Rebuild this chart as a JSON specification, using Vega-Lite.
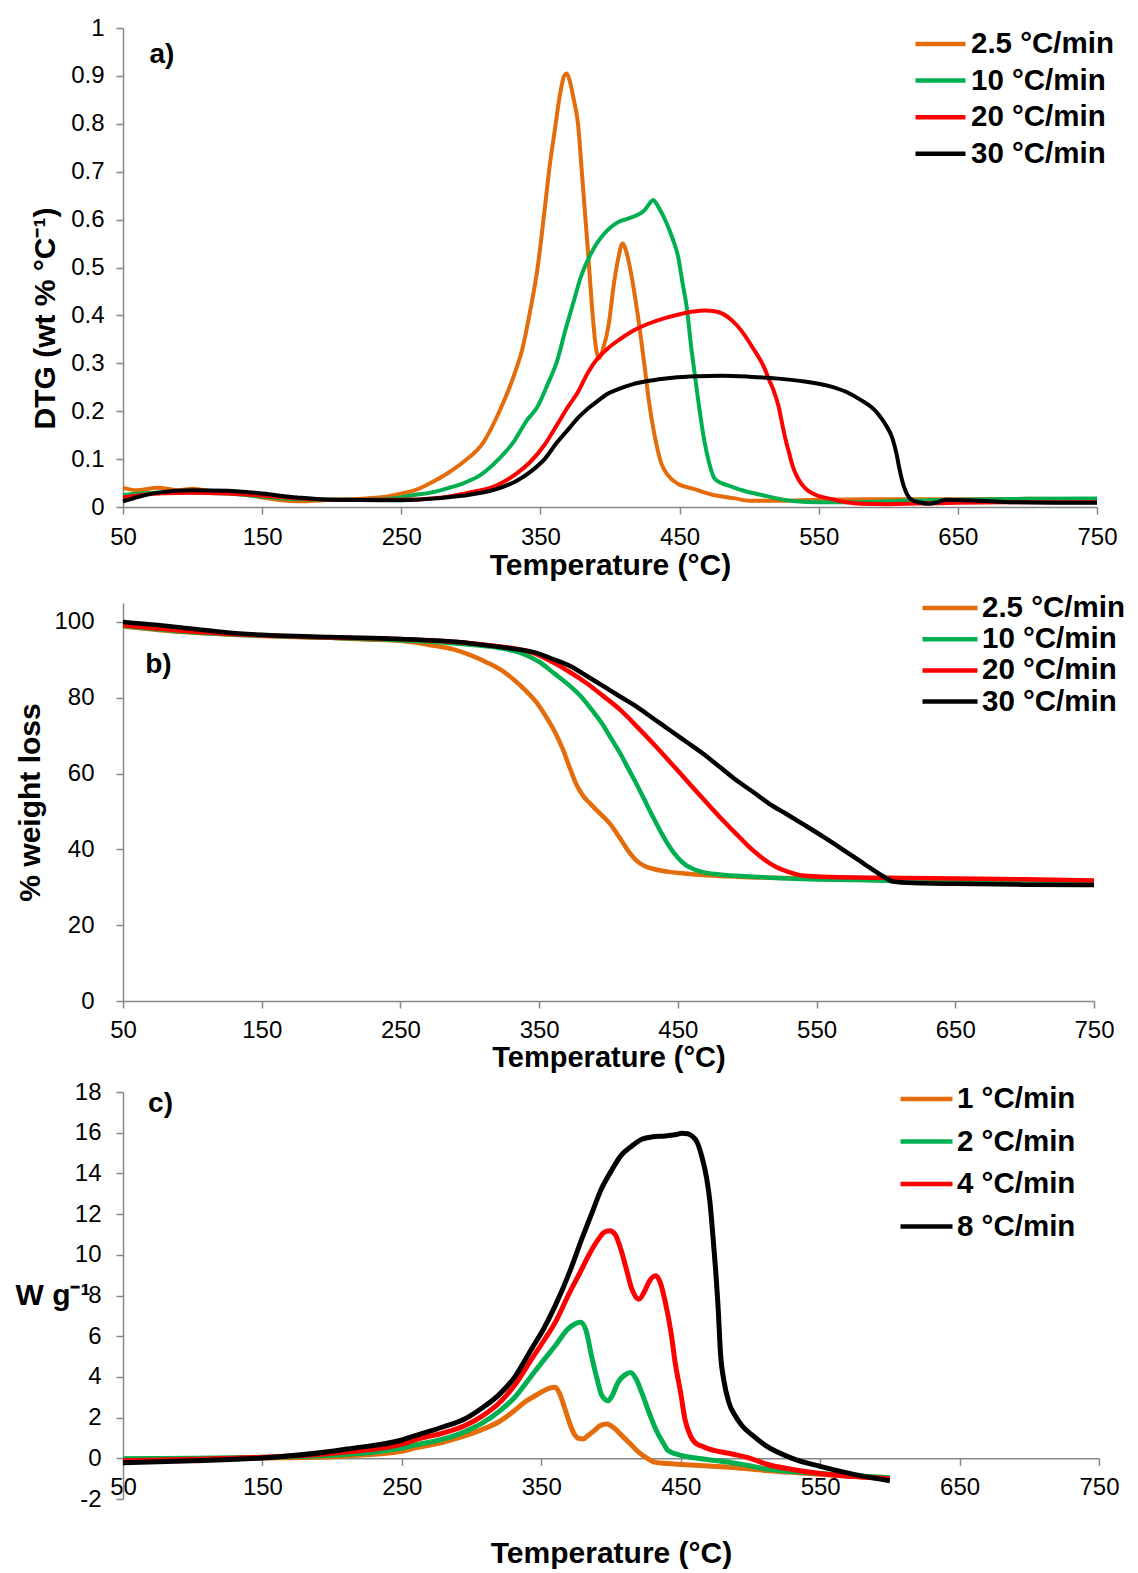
{
  "$schema": "https://vega.github.io/schema/vega-lite/v6.json",
  "background": "white",
  "padding": {"left": 15, "top": 16, "right": 0, "bottom": 0},
  "bounds": "flush",
  "spacing": 96,
  "config": {
    "view": {"stroke": null},
    "font": "Liberation Sans",
    "axis": {
      "labelFont": "Liberation Sans", "labelFontSize": 24, "labelColor": "#000000", "labelFlush": false, "labelOverlap": false,
      "titleFont": "Liberation Sans", "titleFontSize": 30, "titleFontWeight": "bold", "titleColor": "#000000",
      "domainColor": "#878787", "domainWidth": 1.5, "tickColor": "#878787", "tickWidth": 1.5, "tickSize": 7, "grid": false
    },
    "legend": {"padding": 0, "title": null}
  },
  "resolve": {"scale": {"color": "independent"}, "legend": {"color": "independent"}},
  "vconcat": [
    {
      "width": 974, "height": 479,
      "layer": [
        {
          "data": {"values": [
            {"rate":"2.5 °C/min","T":50,"v":0.04},{"rate":"2.5 °C/min","T":60,"v":0.035},{"rate":"2.5 °C/min","T":75,"v":0.04},{"rate":"2.5 °C/min","T":90,"v":0.035},{"rate":"2.5 °C/min","T":100,"v":0.038},{"rate":"2.5 °C/min","T":115,"v":0.032},{"rate":"2.5 °C/min","T":125,"v":0.03},{"rate":"2.5 °C/min","T":140,"v":0.025},{"rate":"2.5 °C/min","T":150,"v":0.02},{"rate":"2.5 °C/min","T":175,"v":0.012},{"rate":"2.5 °C/min","T":200,"v":0.015},{"rate":"2.5 °C/min","T":225,"v":0.018},{"rate":"2.5 °C/min","T":240,"v":0.022},{"rate":"2.5 °C/min","T":250,"v":0.028},{"rate":"2.5 °C/min","T":260,"v":0.035},{"rate":"2.5 °C/min","T":271,"v":0.05},{"rate":"2.5 °C/min","T":283,"v":0.07},{"rate":"2.5 °C/min","T":295,"v":0.095},{"rate":"2.5 °C/min","T":309,"v":0.135},{"rate":"2.5 °C/min","T":319,"v":0.19},{"rate":"2.5 °C/min","T":331,"v":0.275},{"rate":"2.5 °C/min","T":337,"v":0.33},{"rate":"2.5 °C/min","T":343,"v":0.415},{"rate":"2.5 °C/min","T":348,"v":0.5},{"rate":"2.5 °C/min","T":353,"v":0.62},{"rate":"2.5 °C/min","T":357,"v":0.72},{"rate":"2.5 °C/min","T":360,"v":0.78},{"rate":"2.5 °C/min","T":364,"v":0.86},{"rate":"2.5 °C/min","T":367,"v":0.9},{"rate":"2.5 °C/min","T":369,"v":0.905},{"rate":"2.5 °C/min","T":371,"v":0.89},{"rate":"2.5 °C/min","T":374,"v":0.85},{"rate":"2.5 °C/min","T":377,"v":0.8},{"rate":"2.5 °C/min","T":380,"v":0.69},{"rate":"2.5 °C/min","T":384,"v":0.54},{"rate":"2.5 °C/min","T":387,"v":0.42},{"rate":"2.5 °C/min","T":390,"v":0.33},{"rate":"2.5 °C/min","T":392,"v":0.31},{"rate":"2.5 °C/min","T":395,"v":0.33},{"rate":"2.5 °C/min","T":399,"v":0.38},{"rate":"2.5 °C/min","T":403,"v":0.47},{"rate":"2.5 °C/min","T":406,"v":0.52},{"rate":"2.5 °C/min","T":409,"v":0.55},{"rate":"2.5 °C/min","T":412,"v":0.53},{"rate":"2.5 °C/min","T":415,"v":0.49},{"rate":"2.5 °C/min","T":420,"v":0.4},{"rate":"2.5 °C/min","T":425,"v":0.29},{"rate":"2.5 °C/min","T":428,"v":0.22},{"rate":"2.5 °C/min","T":432,"v":0.15},{"rate":"2.5 °C/min","T":437,"v":0.09},{"rate":"2.5 °C/min","T":442,"v":0.065},{"rate":"2.5 °C/min","T":449,"v":0.048},{"rate":"2.5 °C/min","T":460,"v":0.038},{"rate":"2.5 °C/min","T":473,"v":0.026},{"rate":"2.5 °C/min","T":490,"v":0.018},{"rate":"2.5 °C/min","T":500,"v":0.013},{"rate":"2.5 °C/min","T":520,"v":0.013},{"rate":"2.5 °C/min","T":550,"v":0.015},{"rate":"2.5 °C/min","T":600,"v":0.016},{"rate":"2.5 °C/min","T":650,"v":0.016},{"rate":"2.5 °C/min","T":700,"v":0.017},{"rate":"2.5 °C/min","T":750,"v":0.016},
            {"rate":"10 °C/min","T":50,"v":0.025},{"rate":"10 °C/min","T":75,"v":0.03},{"rate":"10 °C/min","T":100,"v":0.03},{"rate":"10 °C/min","T":125,"v":0.028},{"rate":"10 °C/min","T":150,"v":0.022},{"rate":"10 °C/min","T":175,"v":0.016},{"rate":"10 °C/min","T":200,"v":0.015},{"rate":"10 °C/min","T":225,"v":0.015},{"rate":"10 °C/min","T":250,"v":0.02},{"rate":"10 °C/min","T":259,"v":0.025},{"rate":"10 °C/min","T":271,"v":0.03},{"rate":"10 °C/min","T":283,"v":0.039},{"rate":"10 °C/min","T":295,"v":0.05},{"rate":"10 °C/min","T":307,"v":0.067},{"rate":"10 °C/min","T":320,"v":0.1},{"rate":"10 °C/min","T":331,"v":0.137},{"rate":"10 °C/min","T":340,"v":0.18},{"rate":"10 °C/min","T":348,"v":0.21},{"rate":"10 °C/min","T":355,"v":0.255},{"rate":"10 °C/min","T":362,"v":0.305},{"rate":"10 °C/min","T":368,"v":0.37},{"rate":"10 °C/min","T":374,"v":0.43},{"rate":"10 °C/min","T":379,"v":0.48},{"rate":"10 °C/min","T":384,"v":0.515},{"rate":"10 °C/min","T":390,"v":0.548},{"rate":"10 °C/min","T":396,"v":0.571},{"rate":"10 °C/min","T":401,"v":0.585},{"rate":"10 °C/min","T":406,"v":0.595},{"rate":"10 °C/min","T":413,"v":0.602},{"rate":"10 °C/min","T":420,"v":0.61},{"rate":"10 °C/min","T":425,"v":0.62},{"rate":"10 °C/min","T":428,"v":0.632},{"rate":"10 °C/min","T":431,"v":0.641},{"rate":"10 °C/min","T":435,"v":0.625},{"rate":"10 °C/min","T":440,"v":0.597},{"rate":"10 °C/min","T":445,"v":0.56},{"rate":"10 °C/min","T":449,"v":0.522},{"rate":"10 °C/min","T":452,"v":0.47},{"rate":"10 °C/min","T":455,"v":0.42},{"rate":"10 °C/min","T":458.5,"v":0.33},{"rate":"10 °C/min","T":461,"v":0.275},{"rate":"10 °C/min","T":464,"v":0.21},{"rate":"10 °C/min","T":468,"v":0.135},{"rate":"10 °C/min","T":471,"v":0.095},{"rate":"10 °C/min","T":475,"v":0.06},{"rate":"10 °C/min","T":480,"v":0.05},{"rate":"10 °C/min","T":485,"v":0.045},{"rate":"10 °C/min","T":495,"v":0.035},{"rate":"10 °C/min","T":509,"v":0.025},{"rate":"10 °C/min","T":533,"v":0.012},{"rate":"10 °C/min","T":550,"v":0.01},{"rate":"10 °C/min","T":570,"v":0.01},{"rate":"10 °C/min","T":600,"v":0.012},{"rate":"10 °C/min","T":650,"v":0.015},{"rate":"10 °C/min","T":700,"v":0.017},{"rate":"10 °C/min","T":750,"v":0.018},
            {"rate":"20 °C/min","T":50,"v":0.02},{"rate":"20 °C/min","T":75,"v":0.028},{"rate":"20 °C/min","T":100,"v":0.03},{"rate":"20 °C/min","T":125,"v":0.028},{"rate":"20 °C/min","T":150,"v":0.024},{"rate":"20 °C/min","T":175,"v":0.018},{"rate":"20 °C/min","T":200,"v":0.015},{"rate":"20 °C/min","T":250,"v":0.015},{"rate":"20 °C/min","T":280,"v":0.02},{"rate":"20 °C/min","T":295,"v":0.028},{"rate":"20 °C/min","T":319,"v":0.046},{"rate":"20 °C/min","T":333,"v":0.07},{"rate":"20 °C/min","T":343,"v":0.095},{"rate":"20 °C/min","T":353,"v":0.13},{"rate":"20 °C/min","T":362,"v":0.172},{"rate":"20 °C/min","T":370,"v":0.21},{"rate":"20 °C/min","T":377,"v":0.24},{"rate":"20 °C/min","T":384,"v":0.28},{"rate":"20 °C/min","T":391,"v":0.31},{"rate":"20 °C/min","T":398,"v":0.33},{"rate":"20 °C/min","T":406,"v":0.348},{"rate":"20 °C/min","T":416,"v":0.367},{"rate":"20 °C/min","T":427,"v":0.382},{"rate":"20 °C/min","T":440,"v":0.395},{"rate":"20 °C/min","T":451,"v":0.403},{"rate":"20 °C/min","T":460,"v":0.408},{"rate":"20 °C/min","T":468,"v":0.41},{"rate":"20 °C/min","T":476,"v":0.408},{"rate":"20 °C/min","T":485,"v":0.396},{"rate":"20 °C/min","T":491,"v":0.38},{"rate":"20 °C/min","T":497,"v":0.358},{"rate":"20 °C/min","T":502,"v":0.335},{"rate":"20 °C/min","T":507,"v":0.312},{"rate":"20 °C/min","T":511,"v":0.29},{"rate":"20 °C/min","T":514,"v":0.268},{"rate":"20 °C/min","T":518,"v":0.24},{"rate":"20 °C/min","T":521,"v":0.212},{"rate":"20 °C/min","T":524,"v":0.17},{"rate":"20 °C/min","T":526,"v":0.143},{"rate":"20 °C/min","T":529,"v":0.11},{"rate":"20 °C/min","T":531,"v":0.088},{"rate":"20 °C/min","T":535,"v":0.06},{"rate":"20 °C/min","T":540,"v":0.04},{"rate":"20 °C/min","T":548,"v":0.025},{"rate":"20 °C/min","T":557,"v":0.018},{"rate":"20 °C/min","T":570,"v":0.01},{"rate":"20 °C/min","T":581,"v":0.007},{"rate":"20 °C/min","T":600,"v":0.006},{"rate":"20 °C/min","T":650,"v":0.009},{"rate":"20 °C/min","T":700,"v":0.01},{"rate":"20 °C/min","T":750,"v":0.01},
            {"rate":"30 °C/min","T":50,"v":0.012},{"rate":"30 °C/min","T":62,"v":0.022},{"rate":"30 °C/min","T":75,"v":0.03},{"rate":"30 °C/min","T":100,"v":0.035},{"rate":"30 °C/min","T":125,"v":0.034},{"rate":"30 °C/min","T":150,"v":0.028},{"rate":"30 °C/min","T":175,"v":0.02},{"rate":"30 °C/min","T":200,"v":0.015},{"rate":"30 °C/min","T":250,"v":0.014},{"rate":"30 °C/min","T":275,"v":0.018},{"rate":"30 °C/min","T":300,"v":0.026},{"rate":"30 °C/min","T":319,"v":0.038},{"rate":"30 °C/min","T":333,"v":0.055},{"rate":"30 °C/min","T":343,"v":0.074},{"rate":"30 °C/min","T":353,"v":0.1},{"rate":"30 °C/min","T":362,"v":0.135},{"rate":"30 °C/min","T":370,"v":0.162},{"rate":"30 °C/min","T":377,"v":0.186},{"rate":"30 °C/min","T":384,"v":0.205},{"rate":"30 °C/min","T":391,"v":0.221},{"rate":"30 °C/min","T":398,"v":0.236},{"rate":"30 °C/min","T":406,"v":0.246},{"rate":"30 °C/min","T":416,"v":0.256},{"rate":"30 °C/min","T":427,"v":0.263},{"rate":"30 °C/min","T":445,"v":0.27},{"rate":"30 °C/min","T":463,"v":0.273},{"rate":"30 °C/min","T":480,"v":0.274},{"rate":"30 °C/min","T":500,"v":0.272},{"rate":"30 °C/min","T":521,"v":0.268},{"rate":"30 °C/min","T":540,"v":0.262},{"rate":"30 °C/min","T":557,"v":0.253},{"rate":"30 °C/min","T":570,"v":0.24},{"rate":"30 °C/min","T":581,"v":0.222},{"rate":"30 °C/min","T":588,"v":0.208},{"rate":"30 °C/min","T":593,"v":0.193},{"rate":"30 °C/min","T":598,"v":0.172},{"rate":"30 °C/min","T":603,"v":0.143},{"rate":"30 °C/min","T":606,"v":0.11},{"rate":"30 °C/min","T":608,"v":0.08},{"rate":"30 °C/min","T":610,"v":0.055},{"rate":"30 °C/min","T":612.6,"v":0.032},{"rate":"30 °C/min","T":615,"v":0.02},{"rate":"30 °C/min","T":617,"v":0.015},{"rate":"30 °C/min","T":622,"v":0.01},{"rate":"30 °C/min","T":629.5,"v":0.007},{"rate":"30 °C/min","T":635,"v":0.01},{"rate":"30 °C/min","T":641.5,"v":0.015},{"rate":"30 °C/min","T":655,"v":0.014},{"rate":"30 °C/min","T":666,"v":0.013},{"rate":"30 °C/min","T":690,"v":0.01},{"rate":"30 °C/min","T":720,"v":0.009},{"rate":"30 °C/min","T":750,"v":0.009}
          ]},
          "mark": {"type": "line", "strokeWidth": 4, "interpolate": "monotone"},
          "encoding": {
            "x": {"field": "T", "type": "quantitative", "scale": {"domain": [50, 750], "nice": false, "zero": false},
                  "axis": {"values": [50,150,250,350,450,550,650,750], "title": "Temperature (°C)", "labelPadding": 11, "titleY": 58, "titleBaseline": "middle"}},
            "y": {"field": "v", "type": "quantitative", "scale": {"domain": [0, 1], "nice": false},
                  "axis": {"values": [0,0.1,0.2,0.3,0.4,0.5,0.6,0.7,0.8,0.9,1], "format": ".1~f", "labelPadding": 12, "title": "DTG (wt % °C⁻¹)", "titleX": -78, "titleY": 290, "titleAngle": -90, "titleAlign": "center", "titleBaseline": "middle"}},
            "color": {"field": "rate", "type": "nominal",
                      "scale": {"domain": ["2.5 °C/min","10 °C/min","20 °C/min","30 °C/min"], "range": ["#E46C0A","#00B050","#FF0000","#000000"]},
                      "legend": {"orient": "none", "legendX": 790, "legendY": 1.25, "symbolType": "stroke", "symbolSize": 2500, "symbolStrokeWidth": 4.5, "labelFontSize": 29.5, "labelFontWeight": "bold", "labelFont": "Liberation Sans", "labelColor": "#000000", "labelOffset": 3, "rowPadding": 5.6, "clipHeight": 29.5}}
          }
        },
        {
          "data": {"values": [{"T": 69, "v": 0.943, "label": "a)"}]},
          "mark": {"type": "text", "fontSize": 28, "fontWeight": "bold", "align": "left", "baseline": "middle", "font": "Liberation Sans", "color": "#000000"},
          "encoding": {"x": {"field": "T", "type": "quantitative"}, "y": {"field": "v", "type": "quantitative"}, "text": {"field": "label"}}
        }
      ]
    },
    {
      "bounds": "flush",
      "spacing": 91,
      "resolve": {"scale": {"color": "independent"}, "legend": {"color": "independent"}},
      "vconcat": [
        {
          "width": 971, "height": 398,
          "layer": [
            {
              "data": {"values": [
                {"rate":"2.5 °C/min","T":50,"v":98.8},{"rate":"2.5 °C/min","T":75,"v":97.9},{"rate":"2.5 °C/min","T":100,"v":97.2},{"rate":"2.5 °C/min","T":125,"v":96.7},{"rate":"2.5 °C/min","T":150,"v":96.3},{"rate":"2.5 °C/min","T":200,"v":95.8},{"rate":"2.5 °C/min","T":225,"v":95.4},{"rate":"2.5 °C/min","T":253,"v":94.9},{"rate":"2.5 °C/min","T":270,"v":94},{"rate":"2.5 °C/min","T":289,"v":92.7},{"rate":"2.5 °C/min","T":300,"v":91.3},{"rate":"2.5 °C/min","T":313,"v":89.2},{"rate":"2.5 °C/min","T":323,"v":87.2},{"rate":"2.5 °C/min","T":332,"v":84.7},{"rate":"2.5 °C/min","T":340,"v":82},{"rate":"2.5 °C/min","T":348.5,"v":78.6},{"rate":"2.5 °C/min","T":355,"v":75},{"rate":"2.5 °C/min","T":360.6,"v":71.5},{"rate":"2.5 °C/min","T":367,"v":66.5},{"rate":"2.5 °C/min","T":372.6,"v":61},{"rate":"2.5 °C/min","T":377,"v":57},{"rate":"2.5 °C/min","T":382,"v":54},{"rate":"2.5 °C/min","T":387,"v":52},{"rate":"2.5 °C/min","T":391.6,"v":50.3},{"rate":"2.5 °C/min","T":396,"v":48.7},{"rate":"2.5 °C/min","T":401,"v":46.8},{"rate":"2.5 °C/min","T":406,"v":44.2},{"rate":"2.5 °C/min","T":410.8,"v":41.5},{"rate":"2.5 °C/min","T":415,"v":39.2},{"rate":"2.5 °C/min","T":420,"v":37.1},{"rate":"2.5 °C/min","T":426,"v":35.6},{"rate":"2.5 °C/min","T":432,"v":34.9},{"rate":"2.5 °C/min","T":445,"v":34},{"rate":"2.5 °C/min","T":456,"v":33.6},{"rate":"2.5 °C/min","T":492,"v":32.8},{"rate":"2.5 °C/min","T":550,"v":32.3},{"rate":"2.5 °C/min","T":600,"v":32},{"rate":"2.5 °C/min","T":650,"v":31.8},{"rate":"2.5 °C/min","T":700,"v":31.6},{"rate":"2.5 °C/min","T":750,"v":31.4},
                {"rate":"10 °C/min","T":50,"v":99},{"rate":"10 °C/min","T":100,"v":97.3},{"rate":"10 °C/min","T":150,"v":96.4},{"rate":"10 °C/min","T":200,"v":95.8},{"rate":"10 °C/min","T":250,"v":95.2},{"rate":"10 °C/min","T":301,"v":94},{"rate":"10 °C/min","T":320,"v":93.2},{"rate":"10 °C/min","T":337,"v":91.8},{"rate":"10 °C/min","T":350,"v":89.5},{"rate":"10 °C/min","T":360.6,"v":86.5},{"rate":"10 °C/min","T":370,"v":83.8},{"rate":"10 °C/min","T":380,"v":80.4},{"rate":"10 °C/min","T":388,"v":76.8},{"rate":"10 °C/min","T":396.6,"v":72.5},{"rate":"10 °C/min","T":402,"v":69.2},{"rate":"10 °C/min","T":408.5,"v":65.3},{"rate":"10 °C/min","T":414,"v":61.5},{"rate":"10 °C/min","T":420,"v":57.4},{"rate":"10 °C/min","T":426,"v":53},{"rate":"10 °C/min","T":432,"v":48.6},{"rate":"10 °C/min","T":438,"v":44.4},{"rate":"10 °C/min","T":444,"v":40.7},{"rate":"10 °C/min","T":450,"v":37.8},{"rate":"10 °C/min","T":456,"v":35.8},{"rate":"10 °C/min","T":462,"v":34.7},{"rate":"10 °C/min","T":468,"v":34},{"rate":"10 °C/min","T":480,"v":33.4},{"rate":"10 °C/min","T":504,"v":32.8},{"rate":"10 °C/min","T":540,"v":32.2},{"rate":"10 °C/min","T":580,"v":31.9},{"rate":"10 °C/min","T":620,"v":31.6},{"rate":"10 °C/min","T":700,"v":31.3},{"rate":"10 °C/min","T":750,"v":31.1},
                {"rate":"20 °C/min","T":50,"v":99.2},{"rate":"20 °C/min","T":100,"v":97.5},{"rate":"20 °C/min","T":150,"v":96.5},{"rate":"20 °C/min","T":200,"v":95.9},{"rate":"20 °C/min","T":250,"v":95.5},{"rate":"20 °C/min","T":300,"v":94.4},{"rate":"20 °C/min","T":320,"v":93.6},{"rate":"20 °C/min","T":337,"v":92.7},{"rate":"20 °C/min","T":350,"v":91.2},{"rate":"20 °C/min","T":360.6,"v":89.2},{"rate":"20 °C/min","T":372,"v":86.8},{"rate":"20 °C/min","T":384,"v":83.9},{"rate":"20 °C/min","T":396,"v":80.5},{"rate":"20 °C/min","T":408.5,"v":76.8},{"rate":"20 °C/min","T":420,"v":72.6},{"rate":"20 °C/min","T":432,"v":68},{"rate":"20 °C/min","T":444,"v":63.2},{"rate":"20 °C/min","T":456,"v":58.3},{"rate":"20 °C/min","T":468,"v":53.4},{"rate":"20 °C/min","T":480,"v":48.6},{"rate":"20 °C/min","T":492,"v":44.1},{"rate":"20 °C/min","T":504,"v":39.8},{"rate":"20 °C/min","T":512,"v":37.4},{"rate":"20 °C/min","T":520.5,"v":35.4},{"rate":"20 °C/min","T":530,"v":34},{"rate":"20 °C/min","T":539.6,"v":33.1},{"rate":"20 °C/min","T":560,"v":32.7},{"rate":"20 °C/min","T":600,"v":32.5},{"rate":"20 °C/min","T":650,"v":32.3},{"rate":"20 °C/min","T":700,"v":32.1},{"rate":"20 °C/min","T":750,"v":31.8},
                {"rate":"30 °C/min","T":50,"v":100},{"rate":"30 °C/min","T":75,"v":99.2},{"rate":"30 °C/min","T":100,"v":98.2},{"rate":"30 °C/min","T":125,"v":97.2},{"rate":"30 °C/min","T":150,"v":96.6},{"rate":"30 °C/min","T":200,"v":96},{"rate":"30 °C/min","T":250,"v":95.5},{"rate":"30 °C/min","T":300,"v":94.4},{"rate":"30 °C/min","T":330,"v":93},{"rate":"30 °C/min","T":348.5,"v":91.8},{"rate":"30 °C/min","T":360,"v":90.2},{"rate":"30 °C/min","T":372.6,"v":88.3},{"rate":"30 °C/min","T":384,"v":85.8},{"rate":"30 °C/min","T":396.6,"v":83},{"rate":"30 °C/min","T":408,"v":80.4},{"rate":"30 °C/min","T":420,"v":77.7},{"rate":"30 °C/min","T":432,"v":74.6},{"rate":"30 °C/min","T":444,"v":71.5},{"rate":"30 °C/min","T":456,"v":68.4},{"rate":"30 °C/min","T":468,"v":65.3},{"rate":"30 °C/min","T":480,"v":61.8},{"rate":"30 °C/min","T":492,"v":58.3},{"rate":"30 °C/min","T":504,"v":55.2},{"rate":"30 °C/min","T":515.7,"v":52.1},{"rate":"30 °C/min","T":528,"v":49.4},{"rate":"30 °C/min","T":539.6,"v":46.8},{"rate":"30 °C/min","T":555,"v":43.3},{"rate":"30 °C/min","T":570,"v":39.7},{"rate":"30 °C/min","T":585,"v":36},{"rate":"30 °C/min","T":598,"v":32.9},{"rate":"30 °C/min","T":605,"v":31.5},{"rate":"30 °C/min","T":620,"v":31.1},{"rate":"30 °C/min","T":650,"v":30.9},{"rate":"30 °C/min","T":700,"v":30.7},{"rate":"30 °C/min","T":750,"v":30.6}
              ]},
              "mark": {"type": "line", "strokeWidth": 4.5, "interpolate": "monotone"},
              "encoding": {
                "x": {"field": "T", "type": "quantitative", "scale": {"domain": [50, 750], "nice": false, "zero": false},
                      "axis": {"values": [50,150,250,350,450,550,650,750], "title": "Temperature (°C)", "titleFontSize": 29, "labelPadding": 10, "titleY": 56, "titleBaseline": "middle"}},
                "y": {"field": "v", "type": "quantitative", "scale": {"domain": [0, 105], "nice": false},
                      "axis": {"values": [0,20,40,60,80,100], "labelPadding": 22, "title": "% weight loss", "titleX": -93, "titleY": 199, "titleAngle": -90, "titleAlign": "center", "titleBaseline": "middle"}},
                "color": {"field": "rate", "type": "nominal",
                          "scale": {"domain": ["2.5 °C/min","10 °C/min","20 °C/min","30 °C/min"], "range": ["#E46C0A","#00B050","#FF0000","#000000"]},
                          "legend": {"orient": "none", "legendX": 797, "legendY": -9.75, "symbolType": "stroke", "symbolSize": 3025, "symbolStrokeWidth": 4.5, "labelFontSize": 29.5, "labelFontWeight": "bold", "labelFont": "Liberation Sans", "labelColor": "#000000", "labelOffset": 2, "rowPadding": 0.2, "clipHeight": 29.5}}
              }
            },
            {
              "data": {"values": [{"T": 66, "v": 88.55, "label": "b)"}]},
              "mark": {"type": "text", "fontSize": 28, "fontWeight": "bold", "align": "left", "baseline": "middle", "font": "Liberation Sans", "color": "#000000"},
              "encoding": {"x": {"field": "T", "type": "quantitative"}, "y": {"field": "v", "type": "quantitative"}, "text": {"field": "label"}}
            }
          ]
        },
        {
          "width": 976, "height": 407,
          "layer": [
            {
              "data": {"values": [
                {"rate":"1 °C/min","T":50,"v":-0.05},{"rate":"1 °C/min","T":100,"v":-0.02},{"rate":"1 °C/min","T":150,"v":0.02},{"rate":"1 °C/min","T":200,"v":0.08},{"rate":"1 °C/min","T":211,"v":0.12},{"rate":"1 °C/min","T":250,"v":0.35},{"rate":"1 °C/min","T":259,"v":0.5},{"rate":"1 °C/min","T":280,"v":0.8},{"rate":"1 °C/min","T":295,"v":1.1},{"rate":"1 °C/min","T":307,"v":1.4},{"rate":"1 °C/min","T":319,"v":1.77},{"rate":"1 °C/min","T":330,"v":2.3},{"rate":"1 °C/min","T":338,"v":2.75},{"rate":"1 °C/min","T":345,"v":3.05},{"rate":"1 °C/min","T":350,"v":3.25},{"rate":"1 °C/min","T":356,"v":3.45},{"rate":"1 °C/min","T":360,"v":3.49},{"rate":"1 °C/min","T":363,"v":3.2},{"rate":"1 °C/min","T":367,"v":2.42},{"rate":"1 °C/min","T":371,"v":1.6},{"rate":"1 °C/min","T":374,"v":1.15},{"rate":"1 °C/min","T":377,"v":0.97},{"rate":"1 °C/min","T":380,"v":0.95},{"rate":"1 °C/min","T":384,"v":1.15},{"rate":"1 °C/min","T":388,"v":1.36},{"rate":"1 °C/min","T":392,"v":1.6},{"rate":"1 °C/min","T":397,"v":1.68},{"rate":"1 °C/min","T":402,"v":1.5},{"rate":"1 °C/min","T":408,"v":1.1},{"rate":"1 °C/min","T":414,"v":0.7},{"rate":"1 °C/min","T":420,"v":0.29},{"rate":"1 °C/min","T":426,"v":0.0},{"rate":"1 °C/min","T":432,"v":-0.2},{"rate":"1 °C/min","T":440,"v":-0.25},{"rate":"1 °C/min","T":451,"v":-0.3},{"rate":"1 °C/min","T":470,"v":-0.38},{"rate":"1 °C/min","T":487,"v":-0.45},{"rate":"1 °C/min","T":511,"v":-0.6},{"rate":"1 °C/min","T":550,"v":-0.78},{"rate":"1 °C/min","T":600,"v":-1.0},
                {"rate":"2 °C/min","T":50,"v":-0.02},{"rate":"2 °C/min","T":100,"v":0.0},{"rate":"2 °C/min","T":150,"v":0.05},{"rate":"2 °C/min","T":200,"v":0.15},{"rate":"2 °C/min","T":250,"v":0.5},{"rate":"2 °C/min","T":259,"v":0.65},{"rate":"2 °C/min","T":280,"v":0.95},{"rate":"2 °C/min","T":295,"v":1.3},{"rate":"2 °C/min","T":307,"v":1.7},{"rate":"2 °C/min","T":319,"v":2.26},{"rate":"2 °C/min","T":331,"v":3.0},{"rate":"2 °C/min","T":343,"v":4.06},{"rate":"2 °C/min","T":352,"v":4.85},{"rate":"2 °C/min","T":360,"v":5.53},{"rate":"2 °C/min","T":369,"v":6.35},{"rate":"2 °C/min","T":374,"v":6.6},{"rate":"2 °C/min","T":378,"v":6.68},{"rate":"2 °C/min","T":382,"v":6.3},{"rate":"2 °C/min","T":386,"v":5.04},{"rate":"2 °C/min","T":390,"v":3.9},{"rate":"2 °C/min","T":393.5,"v":3.08},{"rate":"2 °C/min","T":398,"v":2.83},{"rate":"2 °C/min","T":401,"v":3.1},{"rate":"2 °C/min","T":405,"v":3.73},{"rate":"2 °C/min","T":410,"v":4.1},{"rate":"2 °C/min","T":414,"v":4.22},{"rate":"2 °C/min","T":418,"v":3.9},{"rate":"2 °C/min","T":422,"v":3.24},{"rate":"2 °C/min","T":427,"v":2.3},{"rate":"2 °C/min","T":432,"v":1.44},{"rate":"2 °C/min","T":437,"v":0.8},{"rate":"2 °C/min","T":441,"v":0.38},{"rate":"2 °C/min","T":451,"v":0.13},{"rate":"2 °C/min","T":462,"v":0.0},{"rate":"2 °C/min","T":475,"v":-0.11},{"rate":"2 °C/min","T":490,"v":-0.25},{"rate":"2 °C/min","T":511,"v":-0.52},{"rate":"2 °C/min","T":550,"v":-0.75},{"rate":"2 °C/min","T":600,"v":-0.95},
                {"rate":"4 °C/min","T":50,"v":-0.12},{"rate":"4 °C/min","T":100,"v":-0.05},{"rate":"4 °C/min","T":150,"v":0.05},{"rate":"4 °C/min","T":200,"v":0.25},{"rate":"4 °C/min","T":250,"v":0.7},{"rate":"4 °C/min","T":259,"v":0.9},{"rate":"4 °C/min","T":280,"v":1.25},{"rate":"4 °C/min","T":295,"v":1.6},{"rate":"4 °C/min","T":307,"v":2.05},{"rate":"4 °C/min","T":319,"v":2.67},{"rate":"4 °C/min","T":331,"v":3.6},{"rate":"4 °C/min","T":343,"v":4.87},{"rate":"4 °C/min","T":352,"v":5.8},{"rate":"4 °C/min","T":360,"v":6.68},{"rate":"4 °C/min","T":370,"v":8.1},{"rate":"4 °C/min","T":379,"v":9.29},{"rate":"4 °C/min","T":385,"v":10.1},{"rate":"4 °C/min","T":391,"v":10.77},{"rate":"4 °C/min","T":395,"v":11.1},{"rate":"4 °C/min","T":399,"v":11.18},{"rate":"4 °C/min","T":403,"v":11.0},{"rate":"4 °C/min","T":407,"v":10.28},{"rate":"4 °C/min","T":411,"v":9.3},{"rate":"4 °C/min","T":415,"v":8.31},{"rate":"4 °C/min","T":420,"v":7.82},{"rate":"4 °C/min","T":424,"v":8.2},{"rate":"4 °C/min","T":427,"v":8.64},{"rate":"4 °C/min","T":432,"v":8.97},{"rate":"4 °C/min","T":435,"v":8.7},{"rate":"4 °C/min","T":439,"v":7.66},{"rate":"4 °C/min","T":443,"v":6.2},{"rate":"4 °C/min","T":446,"v":4.71},{"rate":"4 °C/min","T":450,"v":3.2},{"rate":"4 °C/min","T":453,"v":1.93},{"rate":"4 °C/min","T":457,"v":1.1},{"rate":"4 °C/min","T":460,"v":0.79},{"rate":"4 °C/min","T":465,"v":0.6},{"rate":"4 °C/min","T":470,"v":0.46},{"rate":"4 °C/min","T":487,"v":0.21},{"rate":"4 °C/min","T":500,"v":0.0},{"rate":"4 °C/min","T":511,"v":-0.28},{"rate":"4 °C/min","T":530,"v":-0.55},{"rate":"4 °C/min","T":550,"v":-0.75},{"rate":"4 °C/min","T":575,"v":-0.9},{"rate":"4 °C/min","T":600,"v":-1.0},
                {"rate":"8 °C/min","T":50,"v":-0.22},{"rate":"8 °C/min","T":100,"v":-0.12},{"rate":"8 °C/min","T":150,"v":0.02},{"rate":"8 °C/min","T":200,"v":0.35},{"rate":"8 °C/min","T":211,"v":0.46},{"rate":"8 °C/min","T":250,"v":0.9},{"rate":"8 °C/min","T":259,"v":1.1},{"rate":"8 °C/min","T":280,"v":1.55},{"rate":"8 °C/min","T":295,"v":1.93},{"rate":"8 °C/min","T":307,"v":2.45},{"rate":"8 °C/min","T":319,"v":3.08},{"rate":"8 °C/min","T":331,"v":4.0},{"rate":"8 °C/min","T":343,"v":5.37},{"rate":"8 °C/min","T":352,"v":6.4},{"rate":"8 °C/min","T":360,"v":7.5},{"rate":"8 °C/min","T":370,"v":9.1},{"rate":"8 °C/min","T":379,"v":10.77},{"rate":"8 °C/min","T":386,"v":12.0},{"rate":"8 °C/min","T":393,"v":13.22},{"rate":"8 °C/min","T":400,"v":14.1},{"rate":"8 °C/min","T":407,"v":14.86},{"rate":"8 °C/min","T":415,"v":15.35},{"rate":"8 °C/min","T":422,"v":15.68},{"rate":"8 °C/min","T":430,"v":15.8},{"rate":"8 °C/min","T":439,"v":15.84},{"rate":"8 °C/min","T":446,"v":15.9},{"rate":"8 °C/min","T":451,"v":15.97},{"rate":"8 °C/min","T":455,"v":15.95},{"rate":"8 °C/min","T":458,"v":15.84},{"rate":"8 °C/min","T":462,"v":15.5},{"rate":"8 °C/min","T":465,"v":14.86},{"rate":"8 °C/min","T":468.5,"v":13.8},{"rate":"8 °C/min","T":471,"v":12.57},{"rate":"8 °C/min","T":473,"v":11.0},{"rate":"8 °C/min","T":475,"v":9.29},{"rate":"8 °C/min","T":477,"v":7.2},{"rate":"8 °C/min","T":478.5,"v":5.2},{"rate":"8 °C/min","T":481,"v":3.8},{"rate":"8 °C/min","T":484.5,"v":2.75},{"rate":"8 °C/min","T":489,"v":2.1},{"rate":"8 °C/min","T":494,"v":1.6},{"rate":"8 °C/min","T":502,"v":1.1},{"rate":"8 °C/min","T":511,"v":0.62},{"rate":"8 °C/min","T":530,"v":0.0},{"rate":"8 °C/min","T":550,"v":-0.4},{"rate":"8 °C/min","T":575,"v":-0.8},{"rate":"8 °C/min","T":600,"v":-1.1}
              ]},
              "mark": {"type": "line", "strokeWidth": 5, "interpolate": "monotone"},
              "encoding": {
                "x": {"field": "T", "type": "quantitative", "scale": {"domain": [50, 750], "nice": false, "zero": false},
                      "axis": {"values": [50,150,250,350,450,550,650,750], "title": "Temperature (°C)", "offset": -40.7, "labelPadding": 10, "titleY": 95, "titleBaseline": "middle"}},
                "y": {"field": "v", "type": "quantitative", "scale": {"domain": [-2, 18], "nice": false, "zero": false},
                      "axis": {"values": [-2,0,2,4,6,8,10,12,14,16,18], "labelExpr": "'' + datum.value", "labelPadding": 15, "title": "W g⁻¹", "titleX": -108, "titleY": 203, "titleAngle": 0, "titleAlign": "left", "titleBaseline": "middle"}},
                "color": {"field": "rate", "type": "nominal",
                          "scale": {"domain": ["1 °C/min","2 °C/min","4 °C/min","8 °C/min"], "range": ["#E46C0A","#00B050","#FF0000","#000000"]},
                          "legend": {"orient": "none", "legendX": 775, "legendY": -7.75, "symbolType": "stroke", "symbolSize": 2704, "symbolStrokeWidth": 4.5, "labelFontSize": 29.5, "labelFontWeight": "bold", "labelFont": "Liberation Sans", "labelColor": "#000000", "labelOffset": 2, "rowPadding": 11.5, "clipHeight": 29.5}}
              }
            },
            {
              "data": {"values": [{"T": 68, "v": 17.4, "label": "c)"}]},
              "mark": {"type": "text", "fontSize": 28, "fontWeight": "bold", "align": "left", "baseline": "middle", "font": "Liberation Sans", "color": "#000000"},
              "encoding": {"x": {"field": "T", "type": "quantitative"}, "y": {"field": "v", "type": "quantitative"}, "text": {"field": "label"}}
            }
          ]
        }
      ]
    }
  ]
}
